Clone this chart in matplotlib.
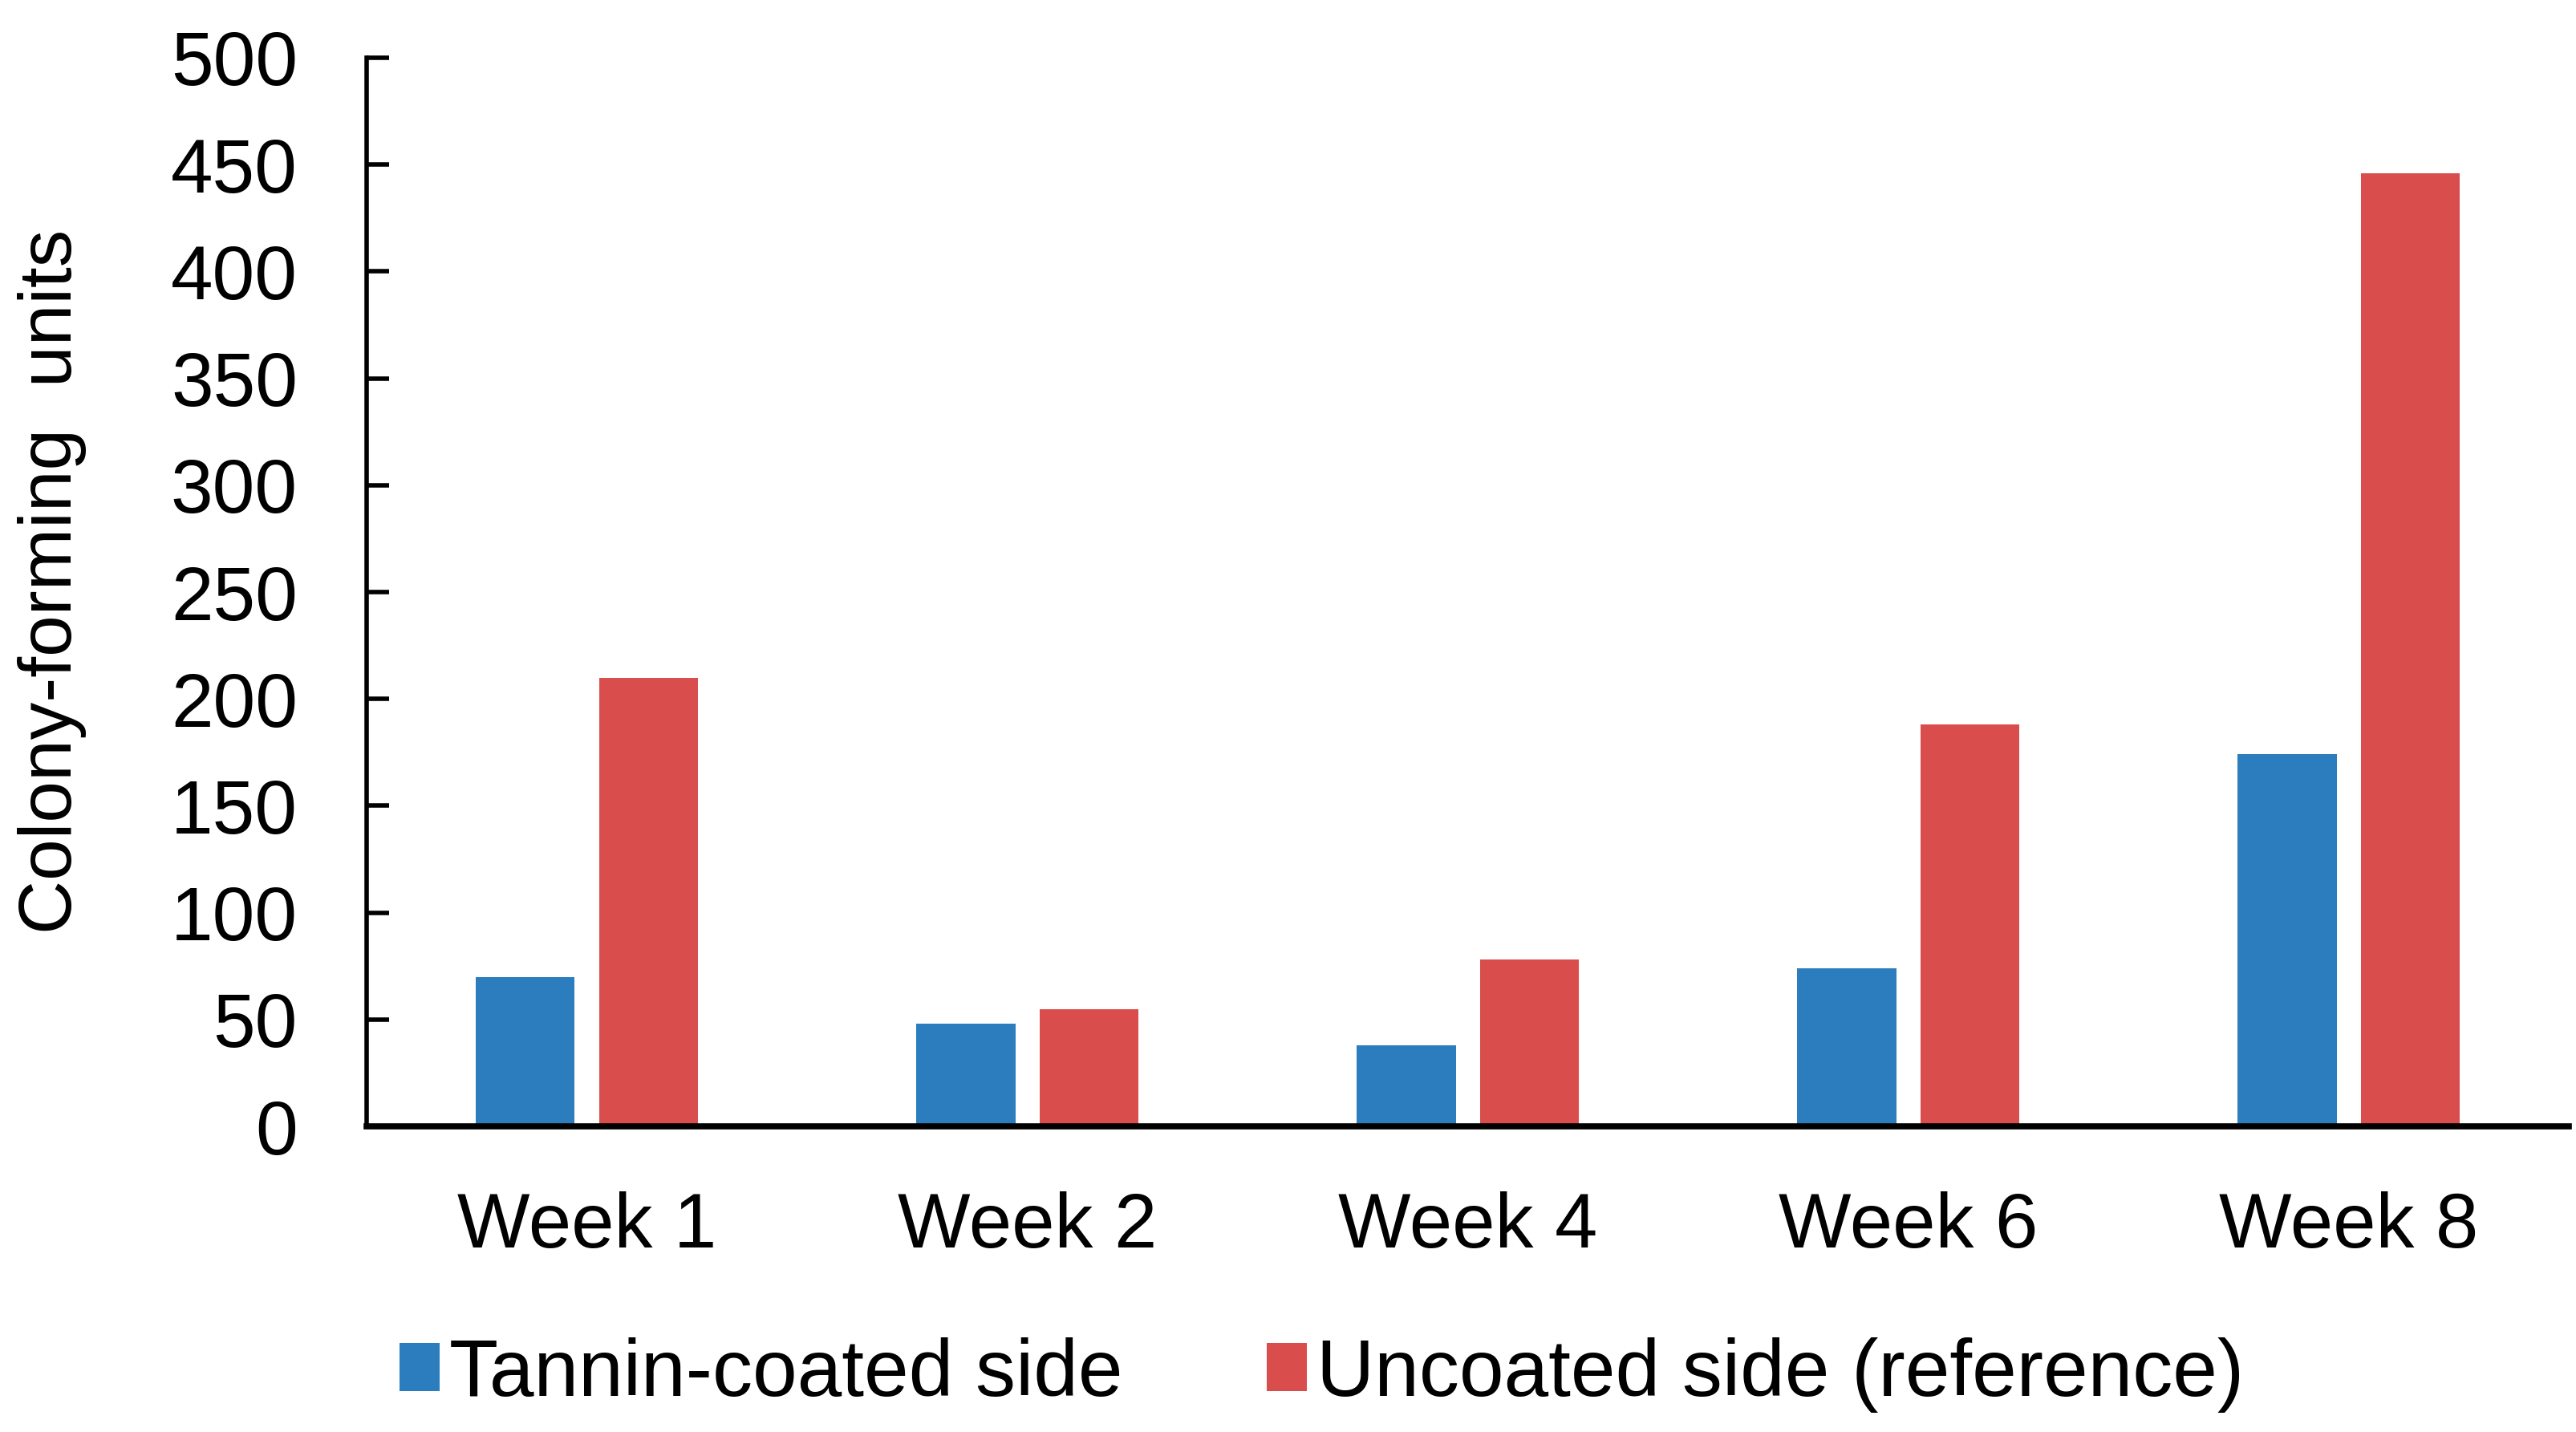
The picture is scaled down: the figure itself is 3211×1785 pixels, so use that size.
import matplotlib
matplotlib.use("Agg")
import matplotlib.pyplot as plt
import numpy as np
from matplotlib.patches import Patch

plt.rcParams['font.family'] = ['Liberation Sans', 'DejaVu Sans']

categories = ["Week 1", "Week 2", "Week 4", "Week 6", "Week 8"]
tannin = [70, 48, 38, 74, 174]
uncoated = [210, 55, 78, 188, 446]
yticks = [0, 50, 100, 150, 200, 250, 300, 350, 400, 450, 500]
series_names = ["Tannin-coated side", "Uncoated side (reference)"]

blue = "#2b7dbd"
red = "#d94d4d"

fig = plt.figure(figsize=(32.12, 17.85), dpi=100)
ax = fig.add_axes([0.1423, 0.2134, 0.8547, 0.7463])

x = np.arange(len(categories))
w = 0.225
off = 0.14
ax.bar(x - off, tannin, width=w, color=blue, label=series_names[0])
ax.bar(x + off, uncoated, width=w, color=red, label=series_names[1])

ax.set_xlim(-0.5, len(categories) - 0.5)
ax.set_ylim(0, 500)
ax.set_yticks(yticks)
ax.set_yticklabels([str(v) for v in yticks], fontsize=68)
ax.set_xticks(x)
ax.set_xticklabels(categories, fontsize=69)

for s in ["top", "right"]:
    ax.spines[s].set_visible(False)
ax.spines["left"].set_linewidth(4)
ax.spines["bottom"].set_linewidth(5.5)
ax.tick_params(axis="y", direction="in", length=20, width=4, pad=62)
ax.tick_params(axis="x", length=0, pad=58)

ax.set_ylabel("Colony-forming  units", fontsize=67)
ax.yaxis.set_label_coords(-0.127, 0.51)

handles = [Patch(facecolor=blue), Patch(facecolor=red)]
fig.legend(handles, series_names, loc="center", bbox_to_anchor=(0.513, 0.040),
           ncol=2, frameon=False, fontsize=72, handlelength=0.5, handleheight=0.55,
           handletextpad=0.12, columnspacing=1.8, borderpad=0)

fig.savefig("out.png", dpi=100)
